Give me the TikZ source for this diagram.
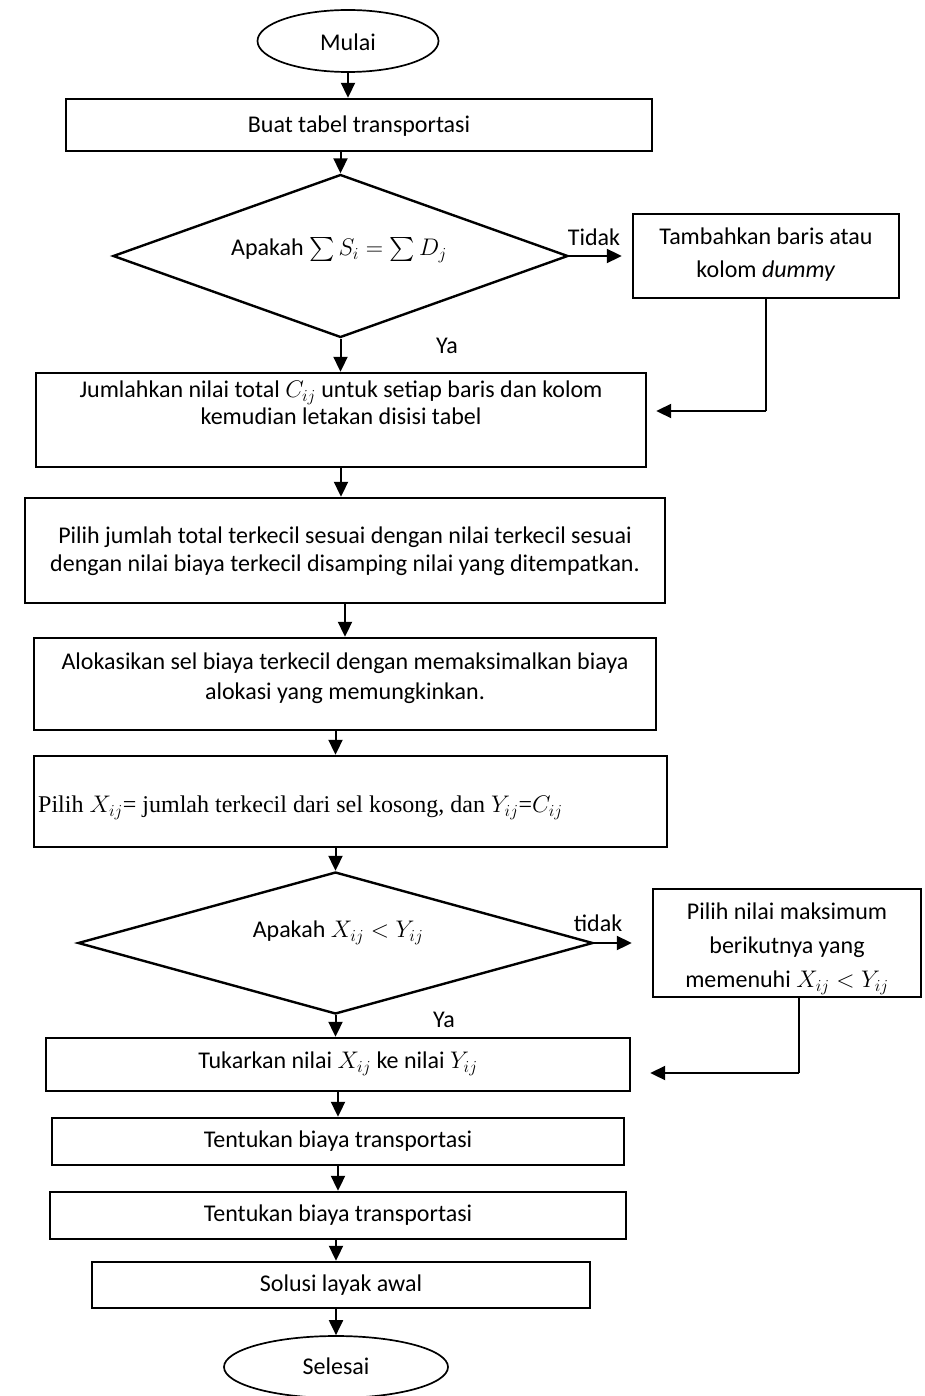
\RequirePackage{fix-cm}
\documentclass[tikz,border=0pt]{standalone}
\DeclareFontShape{OMX}{cmex}{m}{n}{<-> cmex10}{}
\usepackage{fontspec}
\setmainfont{Carlito}
\newfontfamily\tnr{Liberation Serif}
\usetikzlibrary{shapes.geometric,arrows.meta,calc}
\tikzset{
  box/.style={draw, line width=2.4pt, rectangle, inner sep=0pt},
  dia/.style={draw, line width=2.4pt, diamond, inner sep=0pt, aspect=3},
  term/.style={draw, line width=1.7pt, ellipse, inner sep=0pt},
  txt/.style={font=\fontsize{24}{28}\selectfont, align=center, inner sep=0pt},
  arr/.style={line width=2pt, -{Triangle[length=15pt,width=14pt]}},
  thinl/.style={line width=1.3pt},
}
\begin{document}
\begin{tikzpicture}[x=1pt,y=-1pt]
\useasboundingbox (0,0) rectangle (925,1396);
% shapes
\node[term, minimum width=181pt, minimum height=62pt] (mulai) at (348,41) {};
\node[txt] (mulait) at (348,42) {Mulai};
\node[box, minimum width=586pt, minimum height=52pt] (b1) at (359,125) {};
\node[txt] (b1t) at (359,126) {Buat tabel transportasi};
\node[dia, minimum width=455pt, minimum height=163pt] (d1) at (340.5,256) {};
\node[txt] (d1t) at (339,250) {Apakah $\sum S_i = \sum D_j$};
\node[box, minimum width=266pt, minimum height=84pt] (tamb) at (766,256) {};
\node[txt, font=\fontsize{24}{33}\selectfont] (tambt) at (766,255) {Tambahkan baris atau\\kolom \textit{dummy}};
\node[box, minimum width=610pt, minimum height=94pt] (jum) at (341,420) {};
\node[txt, font=\fontsize{24}{27}\selectfont] (jumt) at (341,403) {Jumlahkan nilai total $C_{ij}$ untuk setiap baris dan kolom\\kemudian letakan disisi tabel};
\node[box, minimum width=640pt, minimum height=105pt] (pj) at (345,550.5) {};
\node[txt, font=\fontsize{24}{28}\selectfont] (pjt) at (345,551) {Pilih jumlah total terkecil sesuai dengan nilai terkecil sesuai\\dengan nilai biaya terkecil disamping nilai yang ditempatkan.};
\node[box, minimum width=622pt, minimum height=92pt] (alo) at (345,684) {};
\node[txt, font=\fontsize{24}{30}\selectfont] (alot) at (345,678) {Alokasikan sel biaya terkecil dengan memaksimalkan biaya\\alokasi yang memungkinkan.};
\node[box, minimum width=633pt, minimum height=91pt] (px) at (350.5,801.5) {};
\node[txt, font=\tnr\fontsize{24}{28}\selectfont, anchor=west] (pxt) at (38,808) {Pilih $X_{ij}$= jumlah terkecil dari sel kosong, dan $Y_{ij}$=$C_{ij}$};
\node[dia, minimum width=515pt, minimum height=142pt] (d2) at (335.5,943) {};
\node[txt] (d2t) at (338,933) {Apakah $X_{ij} < Y_{ij}$};
\node[box, minimum width=268pt, minimum height=108pt] (pn) at (787,943) {};
\node[txt, font=\fontsize{24}{34}\selectfont] (pnt) at (787,949) {Pilih nilai maksimum\\berikutnya yang\\memenuhi $X_{ij} < Y_{ij}$};
\node[box, minimum width=584pt, minimum height=53pt] (tuk) at (338,1064.5) {};
\node[txt] (tukt) at (338,1064) {Tukarkan nilai $X_{ij}$ ke nilai $Y_{ij}$};
\node[box, minimum width=572pt, minimum height=47pt] (t1) at (338,1141.5) {};
\node[txt] (t1t) at (338,1141) {Tentukan biaya transportasi};
\node[box, minimum width=576pt, minimum height=47pt] (t2) at (338,1215.5) {};
\node[txt] (t2t) at (338,1215) {Tentukan biaya transportasi};
\node[box, minimum width=498pt, minimum height=46pt] (sol) at (341,1285) {};
\node[txt] (solt) at (341,1285) {Solusi layak awal};
\node[term, minimum width=224pt, minimum height=62pt] (selesai) at (336,1367) {};
\node[txt] (selesait) at (336,1366) {Selesai};
% labels
\node[txt] (l1) at (594,237) {Tidak};
\node[txt] (l2) at (447,346) {Ya};
\node[txt] (l3) at (598,923) {tidak};
\node[txt] (l4) at (444,1020) {Ya};
% connectors
\draw[arr] (mulai.south) -- (mulai.south |- b1.north);
\draw[arr] (d1.north |- b1.south) -- (d1.north);
\draw[arr] (d1.south) -- (d1.south |- jum.north);
\draw[arr, shorten >=10pt] (d1.east) -- (d1.east -| tamb.west);
\coordinate (c1) at (766,411);
\draw[thinl] (tamb.south) -- (c1);
\draw[arr, shorten >=9pt] (c1) -- (c1 -| jum.east);
\draw[arr] (jum.south) -- (jum.south |- pj.north);
\draw[arr] (pj.south) -- (pj.south |- alo.north);
\draw[arr] (d2.north |- alo.south) -- (d2.north |- px.north);
\draw[arr] (d2.north |- px.south) -- (d2.north);
\draw[arr, shorten >=20pt] (d2.east) -- (d2.east -| pn.west);
\draw[arr] (d2.south) -- (d2.south |- tuk.north);
\coordinate (c2) at (799,1073);
\draw[thinl] (c2 |- pn.south) -- (c2);
\draw[arr, shorten >=19pt] (c2) -- (c2 -| tuk.east);
\draw[arr] (tuk.south) -- (tuk.south |- t1.north);
\draw[arr] (t1.south) -- (t1.south |- t2.north);
\draw[arr] (selesai.north |- t2.south) -- (selesai.north |- sol.north);
\draw[arr] (selesai.north |- sol.south) -- (selesai.north);
\end{tikzpicture}
\end{document}
